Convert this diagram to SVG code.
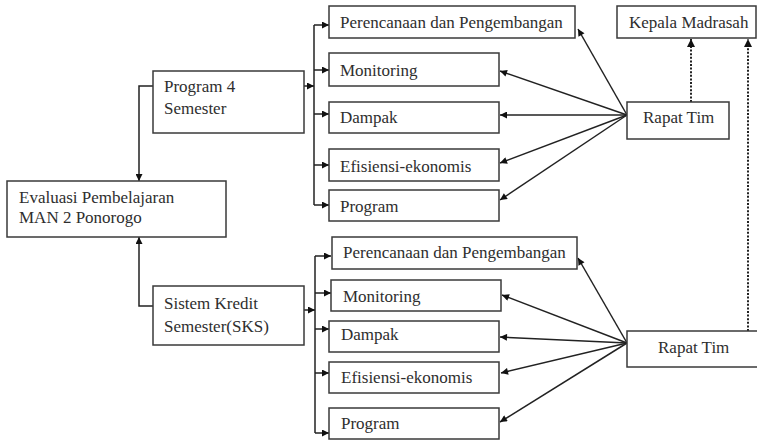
<svg xmlns="http://www.w3.org/2000/svg" width="757" height="441" viewBox="0 0 757 441">
  <defs>
    <style>
      .box { fill: #ffffff; stroke: #3a3a3a; stroke-width: 1.5; }
      .lbl { font-family: "Liberation Serif", "Times New Roman", serif; font-size: 17px; fill: #2e2e2e; }
      .ln { fill: none; stroke: #222222; stroke-width: 1.5; }
      .dot { fill: none; stroke: #222222; stroke-width: 2; stroke-dasharray: 2 1.6; }
    </style>
    <marker id="ah" viewBox="0 0 10 10" refX="10" refY="5" markerWidth="8" markerHeight="7" markerUnits="userSpaceOnUse" orient="auto">
      <path d="M0,0 L10,5 L0,10 Z" fill="#111111"/>
    </marker>
    <marker id="ahd" viewBox="0 0 10 10" refX="10" refY="5" markerWidth="8" markerHeight="8" markerUnits="userSpaceOnUse" orient="auto">
      <path d="M0,0 L10,5 L0,10 Z" fill="#111111"/>
    </marker>
  </defs>
  <rect width="757" height="441" fill="#ffffff"/>

  <!-- connectors -->
  <g id="connectors">
    <!-- programme boxes into the evaluation box -->
    <path class="ln" d="M153,86 H139 V181" marker-end="url(#ah)"/>
    <path class="ln" d="M153,306 H139 V237" marker-end="url(#ah)"/>

    <!-- upper trunk -->
    <path class="ln" d="M304,86 H314" marker-end="url(#ah)"/>
    <path class="ln" d="M314,25 V205"/>
    <path class="ln" d="M314,25 H329" marker-end="url(#ah)"/>
    <path class="ln" d="M314,70 H329" marker-end="url(#ah)"/>
    <path class="ln" d="M314,114 H329" marker-end="url(#ah)"/>
    <path class="ln" d="M314,165 H329" marker-end="url(#ah)"/>
    <path class="ln" d="M314,205 H329" marker-end="url(#ah)"/>

    <!-- lower trunk -->
    <path class="ln" d="M304,310 H315" marker-end="url(#ah)"/>
    <path class="ln" d="M315,256 V433"/>
    <path class="ln" d="M315,256 H331" marker-end="url(#ah)"/>
    <path class="ln" d="M315,293 H331" marker-end="url(#ah)"/>
    <path class="ln" d="M315,329 H329" marker-end="url(#ah)"/>
    <path class="ln" d="M315,373 H329" marker-end="url(#ah)"/>
    <path class="ln" d="M315,433 H329" marker-end="url(#ah)"/>

    <!-- upper team meeting fan -->
    <path class="ln" d="M627,115 L578,29" marker-end="url(#ah)"/>
    <path class="ln" d="M627,115 L500,71" marker-end="url(#ah)"/>
    <path class="ln" d="M627,115 L500,115" marker-end="url(#ah)"/>
    <path class="ln" d="M627,115 L500,163" marker-end="url(#ah)"/>
    <path class="ln" d="M627,115 L500,200" marker-end="url(#ah)"/>

    <!-- lower team meeting fan -->
    <path class="ln" d="M627,343 L578,258" marker-end="url(#ah)"/>
    <path class="ln" d="M627,343 L502,295" marker-end="url(#ah)"/>
    <path class="ln" d="M627,343 L500,337" marker-end="url(#ah)"/>
    <path class="ln" d="M627,343 L501,373" marker-end="url(#ah)"/>
    <path class="ln" d="M627,343 L500,422" marker-end="url(#ah)"/>

    <!-- reports up to the head of school -->
    <path class="dot" d="M691,102 V39" marker-end="url(#ahd)"/>
    <path class="dot" d="M748,331 V39" marker-end="url(#ahd)"/>
  </g>

  <g id="evaluasi">
    <rect class="box" x="7" y="181" width="219" height="56"/>
    <text class="lbl" x="19" y="203">Evaluasi Pembelajaran</text>
    <text class="lbl" x="19" y="223">MAN 2 Ponorogo</text>
  </g>

  <g id="program4">
    <rect class="box" x="153" y="71" width="151" height="62"/>
    <text class="lbl" x="164" y="92">Program 4</text>
    <text class="lbl" x="164" y="114">Semester</text>
  </g>

  <g id="sks">
    <rect class="box" x="153" y="286" width="151" height="59"/>
    <text class="lbl" x="164" y="309">Sistem Kredit</text>
    <text class="lbl" x="164" y="332">Semester(SKS)</text>
  </g>

  <!-- upper evaluation aspects -->
  <g id="perencanaan1">
    <rect class="box" x="329" y="6" width="246" height="32"/>
    <text class="lbl" x="340" y="28">Perencanaan dan Pengembangan</text>
  </g>
  <g id="monitoring1">
    <rect class="box" x="329" y="53" width="170" height="33"/>
    <text class="lbl" x="340" y="76">Monitoring</text>
  </g>
  <g id="dampak1">
    <rect class="box" x="329" y="102" width="170" height="31"/>
    <text class="lbl" x="340" y="123">Dampak</text>
  </g>
  <g id="efisiensi1">
    <rect class="box" x="329" y="149" width="170" height="32"/>
    <text class="lbl" x="340" y="172">Efisiensi-ekonomis</text>
  </g>
  <g id="programaspek1">
    <rect class="box" x="329" y="190" width="170" height="31"/>
    <text class="lbl" x="340" y="212">Program</text>
  </g>

  <!-- lower evaluation aspects -->
  <g id="perencanaan2">
    <rect class="box" x="332" y="237" width="245" height="32"/>
    <text class="lbl" x="343" y="258">Perencanaan dan Pengembangan</text>
  </g>
  <g id="monitoring2">
    <rect class="box" x="331" y="280" width="170" height="31"/>
    <text class="lbl" x="343" y="302">Monitoring</text>
  </g>
  <g id="dampak2">
    <rect class="box" x="329" y="321" width="170" height="31"/>
    <text class="lbl" x="341" y="340">Dampak</text>
  </g>
  <g id="efisiensi2">
    <rect class="box" x="329" y="362" width="170" height="31"/>
    <text class="lbl" x="341" y="383">Efisiensi-ekonomis</text>
  </g>
  <g id="programaspek2">
    <rect class="box" x="329" y="408" width="170" height="31"/>
    <text class="lbl" x="341" y="429">Program</text>
  </g>

  <g id="kepala">
    <rect class="box" x="617" y="6" width="139" height="32"/>
    <text class="lbl" x="629" y="28">Kepala Madrasah</text>
  </g>

  <g id="rapat1">
    <rect class="box" x="627" y="102" width="102" height="37"/>
    <text class="lbl" x="643" y="123">Rapat Tim</text>
  </g>

  <g id="rapat2">
    <rect class="box" x="627" y="331" width="131" height="36"/>
    <text class="lbl" x="658" y="353">Rapat Tim</text>
  </g>
</svg>
